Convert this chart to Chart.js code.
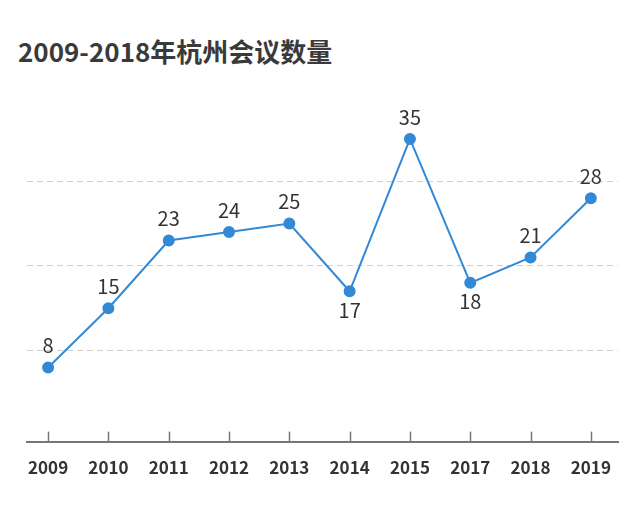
<!DOCTYPE html>
<html>
<head>
<meta charset="utf-8">
<script src="https://cdn.jsdelivr.net/npm/chart.js@4/dist/chart.umd.min.js"></script>
<style>
  html, body { margin: 0; padding: 0; background: #fff; }
  #wrap { position: relative; width: 640px; height: 515px; }
  #title {
    position: absolute; left: 18px; top: 33px;
    font-family: "Noto Sans CJK SC", "Noto Sans", sans-serif;
    font-weight: bold; font-size: 26px; line-height: 36px; color: #3a3a3a;
  }
  canvas { position: absolute; left: 0; top: 0; }
</style>
</head>
<body>
<div id="wrap">
  <div id="title">2009-2018年杭州会议数量</div>
  <canvas id="chart" width="640" height="515"></canvas>
</div>
<script>
// Chart data
const years = ['2009', '2010', '2011', '2012', '2013', '2014', '2015', '2017', '2018', '2019'];
const meetings = [8, 15, 23, 24, 25, 17, 35, 18, 21, 28];
const gridValues = [10, 20, 30];

const FONT = '"Noto Sans CJK SC", "Noto Sans", sans-serif';
const BLUE = '#3389d4';

// Tick marks standing up from the x axis line
const upTicks = {
  id: 'upTicks',
  afterDraw(chart) {
    const { ctx, chartArea, scales } = chart;
    ctx.save();
    ctx.strokeStyle = '#777';
    ctx.lineWidth = 1.5;
    scales.x.ticks.forEach(t => {
      const x = Math.round(scales.x.getPixelForValue(t.value)) + 0.5;
      ctx.beginPath();
      ctx.moveTo(x, chartArea.bottom);
      ctx.lineTo(x, chartArea.bottom - 10);
      ctx.stroke();
    });
    ctx.restore();
  }
};

// Value labels: above the point, below for local dips
const valueLabels = {
  id: 'valueLabels',
  afterDatasetsDraw(chart) {
    const { ctx } = chart;
    const meta = chart.getDatasetMeta(0);
    ctx.save();
    ctx.font = '20px ' + FONT;
    ctx.fillStyle = '#333';
    ctx.textAlign = 'center';
    ctx.textBaseline = 'middle';
    meta.data.forEach((pt, i) => {
      const v = meetings[i];
      const dip = i > 0 && i < meetings.length - 1 && v < meetings[i - 1] && v < meetings[i + 1];
      ctx.fillText(String(v), pt.x, dip ? pt.y + 19 : pt.y - 22);
    });
    ctx.restore();
  }
};

new Chart(document.getElementById('chart'), {
  type: 'line',
  data: {
    datasets: [{
      data: meetings.map((v, i) => ({ x: i, y: v })),
      borderColor: BLUE,
      backgroundColor: BLUE,
      borderWidth: 2,
      pointRadius: 5,
      pointBackgroundColor: BLUE,
      pointBorderColor: BLUE,
      tension: 0
    }]
  },
  options: {
    responsive: false,
    animation: false,
    layout: {
      padding: { left: 27, right: 22, top: 100, bottom: 21 }
    },
    plugins: {
      legend: { display: false },
      tooltip: { enabled: false }
    },
    scales: {
      x: {
        type: 'linear',
        min: -0.35,
        max: 9.45,
        afterBuildTicks: scale => {
          scale.ticks = years.map((_, i) => ({ value: i }));
        },
        ticks: {
          callback: v => years[v],
          color: '#333',
          padding: 16,
          font: { family: FONT, size: 17, weight: 'bold' }
        },
        grid: { display: false, drawTicks: false },
        border: { display: true, color: '#777', width: 2 }
      },
      y: {
        min: -0.76,
        max: 39.6,
        afterBuildTicks: scale => {
          scale.ticks = gridValues.map(v => ({ value: v }));
        },
        ticks: { display: false },
        grid: { color: '#cfcfcf', lineWidth: 1, drawTicks: false },
        border: { display: false, dash: [6, 4] }
      }
    }
  },
  plugins: [upTicks, valueLabels]
});
</script>
</body>
</html>
